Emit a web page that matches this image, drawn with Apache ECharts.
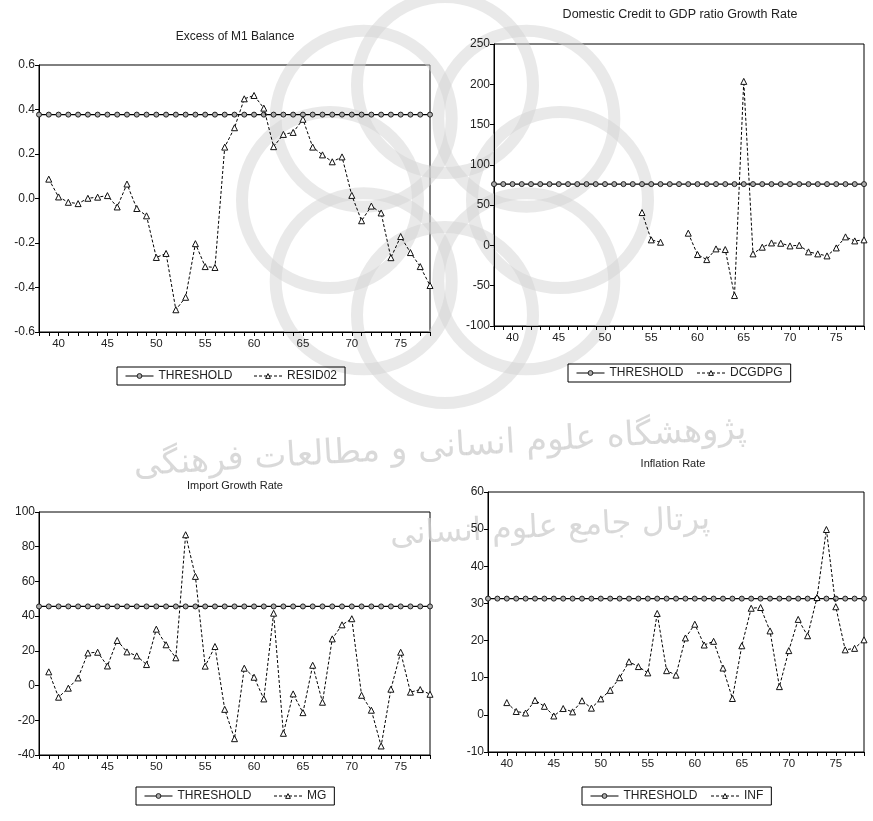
<!DOCTYPE html>
<html>
<head>
<meta charset="utf-8">
<title>Threshold charts</title>
<script src="https://cdn.jsdelivr.net/npm/echarts@6/dist/echarts.min.js"></script>
<style>
  body { margin: 0; background: #fff; }
  #main { width: 873px; height: 821px; }
</style>
</head>
<body>
<div id="main"></div>
<script>
// years on the x axis (38 .. 78), every series is aligned with this list
const years = [38, 39, 40, 41, 42, 43, 44, 45, 46, 47, 48, 49, 50, 51, 52, 53, 54, 55, 56, 57, 58,
  59, 60, 61, 62, 63, 64, 65, 66, 67, 68, 69, 70, 71, 72, 73, 74, 75, 76, 77, 78]

const resid02 = [null, 0.087, 0.007, -0.017, -0.023, 0.001, 0.006, 0.013, -0.038, 0.065, -0.045,
  -0.078, -0.265, -0.247, -0.50, -0.444, -0.203, -0.306, -0.31, 0.231, 0.318,
  0.448, 0.463, 0.406, 0.233, 0.288, 0.297, 0.356, 0.231, 0.196, 0.165,
  0.187, 0.014, -0.10, -0.034, -0.065, -0.266, -0.171, -0.243, -0.306, -0.391]

const dcgdpg = [null, null, null, null, null, null, null, null, null, null, null,
  null, null, null, null, null, 40.8, 6.9, 4.0, null, null,
  15.2, -11.3, -17.6, -4.3, -5.1, -62.2, 203.6, -10.5, -2.2, 3.1,
  2.7, -0.6, 0.2, -8.0, -10.5, -13.0, -3.1, 10.6, 5.6, 6.9]

const mg = [null, 7.9, -6.7, -1.5, 4.4, 18.8, 19.2, 11.3, 26.0, 19.4, 17.1,
  12.1, 32.5, 23.5, 16.0, 86.9, 62.9, 11.2, 22.5, -13.7, -30.6,
  10.0, 4.8, -7.7, 41.7, -27.5, -4.8, -15.6, 11.7, -9.6, 26.9,
  35.0, 38.5, -5.6, -14.2, -34.8, -2.1, 19.2, -3.8, -2.3, -5.0]

const inf = [null, null, 3.3, 0.9, 0.5, 3.9, 2.3, -0.3, 1.7, 0.8, 3.8,
  1.8, 4.3, 6.6, 10.0, 14.3, 13.0, 11.3, 27.3, 11.9, 10.7,
  20.7, 24.4, 18.8, 19.8, 12.6, 4.4, 18.6, 28.7, 28.9, 22.6,
  7.6, 17.3, 25.7, 21.3, 31.6, 49.9, 29.1, 17.5, 17.9, 20.2]

// threshold level per panel
const thresholds = [0.377, 76.1, 45.6, 31.3]

const titles = ['Excess of M1 Balance', 'Domestic Credit to GDP ratio Growth Rate', 'Import Growth Rate', 'Inflation Rate']
const seriesNames = ['RESID02', 'DCGDPG', 'MG', 'INF']
const yMin = [-0.6, -100, -40, -10]
const yMax = [0.6, 250, 100, 60]
const yStep = [0.2, 50, 20, 10]

const values = [resid02, dcgdpg, mg, inf]

// watermark text in the background of the page
const watermark = ['پژوهشگاه علوم انسانی و مطالعات فرهنگی', 'پرتال جامع علوم انسانی']

const textColor = '#222'
const font = 'Liberation Sans, Arial, sans-serif'

// panel boxes: grid [left, top, width, height], title [x, y, size], legend [left, top, gap]
const grids = [
  [39, 65, 391, 267],
  [494, 44, 370, 282],
  [39, 512, 391, 243],
  [488, 492, 376, 260],
]
const titlePos = [[235, 37, 12], [680, 15, 12.5], [235, 486, 11], [673, 464, 11]]
const legendPos = [[117, 367, 21], [568, 364, 13], [136, 787, 22], [582, 787, 13]]

const myChart = echarts.init(document.getElementById('main'))

let option = {
  animation: false,
  backgroundColor: '#fff',
  textStyle: { fontFamily: font, color: textColor },
  grid: [], xAxis: [], yAxis: [], series: [], legend: [], graphic: [],
}

grids.forEach((g, i) => {
  option.grid.push({
    left: g[0], top: g[1], width: g[2], height: g[3],
    show: true, borderColor: '#000', borderWidth: 1, backgroundColor: 'transparent',
  })
  option.xAxis.push({
    type: 'value', gridIndex: i, min: 38, max: 78, interval: 1,
    axisLine: { onZero: false, lineStyle: { color: '#000' } },
    axisTick: { show: true, length: 4, lineStyle: { color: '#000' } },
    axisLabel: {
      margin: 6, fontSize: 11.5, color: textColor, fontFamily: font,
      formatter: v => (v % 5 === 0 ? String(v) : ''),
    },
    splitLine: { show: false },
  })
  option.yAxis.push({
    type: 'value', gridIndex: i, min: yMin[i], max: yMax[i], interval: yStep[i],
    axisLine: { show: true, onZero: false, lineStyle: { color: '#000' } },
    axisTick: { show: true, length: 4, lineStyle: { color: '#000' } },
    axisLabel: {
      margin: 4, fontSize: 12, color: textColor, fontFamily: font,
      formatter: v => (i === 0 ? v.toFixed(1) : String(Math.round(v))),
    },
    splitLine: { show: false },
  })
  option.series.push({
    name: 'THRESHOLD', type: 'line', xAxisIndex: i, yAxisIndex: i,
    data: years.map(y => [y, thresholds[i]]),
    symbol: 'circle', symbolSize: 5, showAllSymbol: true, clip: false,
    lineStyle: { color: '#000', width: 1.4, type: 'solid' },
    itemStyle: { color: '#aaa', borderColor: '#222', borderWidth: 1 },
    z: 3,
  })
  option.series.push({
    name: seriesNames[i], type: 'line', xAxisIndex: i, yAxisIndex: i,
    data: years.map((y, k) => [y, values[i][k] === null ? '-' : values[i][k]]),
    connectNulls: false,
    symbol: 'triangle', symbolSize: 6, showAllSymbol: true, clip: false,
    lineStyle: { color: '#000', width: 1, type: [3, 2] },
    itemStyle: { color: '#fff', borderColor: '#111', borderWidth: 1 },
    z: 4,
  })
  option.legend.push({
    data: ['THRESHOLD', seriesNames[i]],
    left: legendPos[i][0], top: legendPos[i][1], itemGap: legendPos[i][2],
    padding: [3, 8], itemWidth: 28, itemHeight: 6,
    borderColor: '#000', borderWidth: 1, borderRadius: 0,
    selectedMode: false,
    lineStyle: { width: 1 },
    itemStyle: { borderWidth: 1 },
    textStyle: { fontSize: 12, color: textColor, fontFamily: font },
  })
})

// faint rosette + persian text watermark behind the charts
const rosette = []
for (let k = 0; k < 8; k++) {
  const a = k * Math.PI / 4
  rosette.push({
    type: 'circle', silent: true, z: 0,
    shape: { cx: 445 + 115 * Math.cos(a), cy: 200 + 115 * Math.sin(a), r: 88 },
    style: { fill: 'none', stroke: '#d4d4d4', lineWidth: 12, opacity: 0.5 },
  })
}

option.graphic = rosette.concat([
  {
    type: 'text', x: 440, y: 448, rotation: 0.06, z: 0, silent: true,
    style: {
      text: watermark[0], fill: '#d0d0d0', opacity: 0.8,
      font: '34px DejaVu Sans, sans-serif', textAlign: 'center', textVerticalAlign: 'middle',
    },
  },
  {
    type: 'text', x: 550, y: 528, rotation: 0.05, z: 0, silent: true,
    style: {
      text: watermark[1], fill: '#d0d0d0', opacity: 0.8,
      font: '32px DejaVu Sans, sans-serif', textAlign: 'center', textVerticalAlign: 'middle',
    },
  },
]).concat(titles.map((t, i) => ({
  type: 'text', x: titlePos[i][0], y: titlePos[i][1], z: 10,
  style: {
    text: t, fill: textColor, font: titlePos[i][2] + 'px ' + font,
    textAlign: 'center', textVerticalAlign: 'middle',
  },
})))

myChart.setOption(option)
</script>
</body>
</html>
